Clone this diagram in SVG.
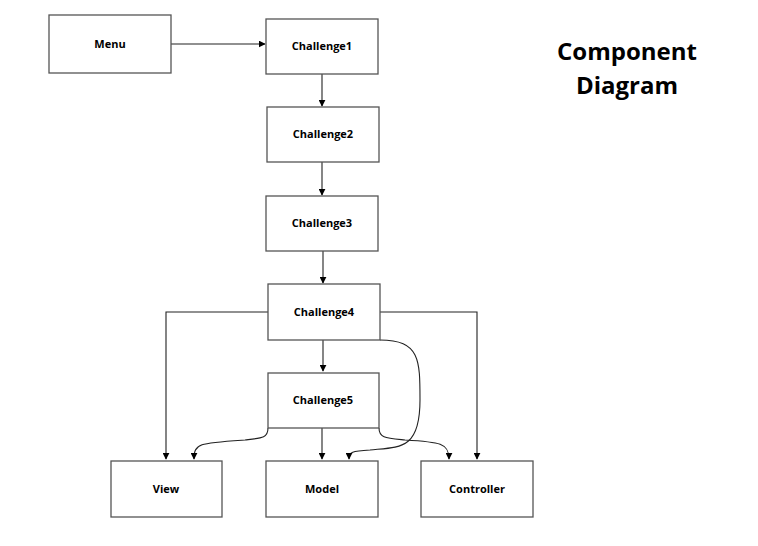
<svg xmlns="http://www.w3.org/2000/svg" width="758" height="546" viewBox="0 0 758 546">
<defs>
<style>
.box{fill:#fff;stroke:#555;stroke-width:1.3}
.lbl{font-family:"Open Sans","Liberation Sans",sans-serif;font-weight:bold;font-size:11px;fill:#000;text-anchor:middle}
.ttl{font-family:"Open Sans","Liberation Sans",sans-serif;font-weight:bold;font-size:24px;fill:#000;text-anchor:middle}
.c{fill:none;stroke:#222;stroke-width:1.1;marker-end:url(#a)}
</style>
<marker id="a" viewBox="0 0 10 10" refX="9" refY="5" markerWidth="7" markerHeight="7" markerUnits="userSpaceOnUse" orient="auto">
<path d="M0,0 L10,5 L0,10 Z" fill="#000"/>
</marker>
</defs>
<rect width="758" height="546" fill="#fff"/>
<g id="connectors">
<path class="c" d="M171,44 H265"/>
<path class="c" d="M322,74 V106"/>
<path class="c" d="M322,162 V195"/>
<path class="c" d="M323,251 V283"/>
<path class="c" d="M268,312 H166 V459"/>
<path class="c" d="M323,340 V371"/>
<path class="c" d="M380,312 H477 V459"/>
<path class="c" d="M380,340 C420,340 420,360 420,400 C420,450 400,447 370,450 C352,451 349,452 349,459"/>
<path class="c" d="M268,428 C268,438 262,438 245,440 C200,443 194,443 194,459"/>
<path class="c" d="M322,428 V459"/>
<path class="c" d="M379,428 C379,438 386,438 405,440 C440,442 449,443 449,459"/>
</g>
<g id="menu"><rect class="box" x="49" y="15" width="122" height="58"/><text class="lbl" x="110" y="48">Menu</text></g>
<g id="challenge1"><rect class="box" x="266" y="19" width="112" height="55"/><text class="lbl" x="322" y="50">Challenge1</text></g>
<g id="challenge2"><rect class="box" x="267" y="107" width="112" height="55"/><text class="lbl" x="323" y="138">Challenge2</text></g>
<g id="challenge3"><rect class="box" x="266" y="196" width="112" height="55"/><text class="lbl" x="322" y="227">Challenge3</text></g>
<g id="challenge4"><rect class="box" x="268" y="284" width="112" height="56"/><text class="lbl" x="324" y="316">Challenge4</text></g>
<g id="challenge5"><rect class="box" x="268" y="373" width="111" height="55"/><text class="lbl" x="323" y="404">Challenge5</text></g>
<g id="view"><rect class="box" x="111" y="461" width="111" height="56"/><text class="lbl" x="166" y="493">View</text></g>
<g id="model"><rect class="box" x="266" y="461" width="112" height="56"/><text class="lbl" x="322" y="493">Model</text></g>
<g id="controller"><rect class="box" x="421" y="461" width="112" height="56"/><text class="lbl" x="477" y="493">Controller</text></g>
<g id="title"><text class="ttl" x="627" y="60">Component</text><text class="ttl" x="627" y="94">Diagram</text></g>
</svg>
